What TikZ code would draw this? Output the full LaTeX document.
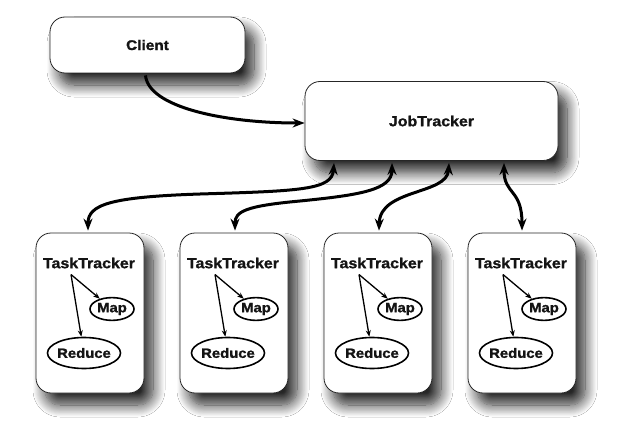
\documentclass[tikz,border=0pt]{standalone}
\usepackage{fontspec}
\setmainfont{Liberation Sans}[BoldFeatures={FakeStretch=1.1,FakeBold=1.2}]
\usetikzlibrary{arrows.meta,shadows.blur,shapes.geometric,calc}
\definecolor{txt}{HTML}{141414}
\begin{document}
\begin{tikzpicture}[x=1pt,y=-1pt,
  bigfont/.style={font=\fontsize{14.5}{17}\selectfont\bfseries, text=txt},
  smallfont/.style={font=\fontsize{13.5}{16}\selectfont\bfseries, text=txt},
  box/.style={draw=black!85, line width=0.8pt, fill=white, rounded corners=15pt,
    blur shadow={shadow xshift=9pt, shadow yshift=-12pt, shadow blur radius=12pt, shadow opacity=85, shadow blur steps=14},
    bigfont, inner sep=0pt},
  lbl/.style={bigfont, inner sep=0pt},
  ell/.style={ellipse, draw=black, line width=1.6pt, fill=white, smallfont, inner xsep=-1pt, inner ysep=2pt},
  big/.style={line width=3pt, black, {Stealth[length=12pt,width=9pt]}-{Stealth[length=12pt,width=9pt]}},
  bigone/.style={line width=3pt, black, -{Stealth[length=12pt,width=9pt]}},
  inarrow/.style={line width=1.3pt, black, -{Stealth[length=6.5pt,width=5pt]}}
]
\fill[white] (0,0) rectangle (627,436);
\useasboundingbox (0,0) rectangle (627,436);

\node[box, minimum width=195pt, minimum height=56pt, font=\fontsize{14}{17}\selectfont\bfseries] (client) at (147.5,45) {Client};
\node[box, minimum width=253pt, minimum height=79pt] (jt) at (431.5,121) {JobTracker};

\foreach \i/\cx in {1/90, 2/234, 3/378, 4/522} {
  \node[box, minimum width=108pt, minimum height=160pt] (tt\i) at (\cx,313) {};
  \node[lbl] (ttl\i) at (\cx-1,263) {TaskTracker};
  \node[ell, minimum width=44pt, minimum height=22pt] (map\i) at (\cx+22,309) {Map};
  \node[ell, minimum width=73pt, minimum height=31pt] (red\i) at (\cx-6,353) {Reduce};
  \coordinate (s\i) at ($(ttl\i.south)+(-18,6)$);
  \draw[inarrow] (s\i) -- (map\i);
  \draw[inarrow] (s\i) -- (red\i);
}

\draw[bigone] ([xshift=-2pt,yshift=-2pt]client.south) .. controls +(3,32) and +(-80,0) .. ([yshift=-2pt]jt.west);

\draw[big] ([xshift=-97.5pt,yshift=-2pt]jt.south) .. controls +(-2,27) and +(100,-3) .. (200,194)
  .. controls +(-90,3) and +(0,-26) .. ([xshift=-2pt,yshift=2pt]tt1.north);
\draw[big] ([xshift=-39.5pt,yshift=-2pt]jt.south) .. controls +(0,27) and +(60,-6) .. (300,201)
  .. controls +(-55,5) and +(0,-19) .. ([xshift=1pt,yshift=2pt]tt2.north);
\draw[big] ([xshift=17.5pt,yshift=-2pt]jt.south) .. controls +(-2,32) and +(1,-42) .. ([xshift=1pt,yshift=2pt]tt3.north);
\draw[big] ([xshift=72.5pt,yshift=-2pt]jt.south) .. controls +(0,32) and +(0,-42) .. ([yshift=2pt]tt4.north);
\end{tikzpicture}
\end{document}
